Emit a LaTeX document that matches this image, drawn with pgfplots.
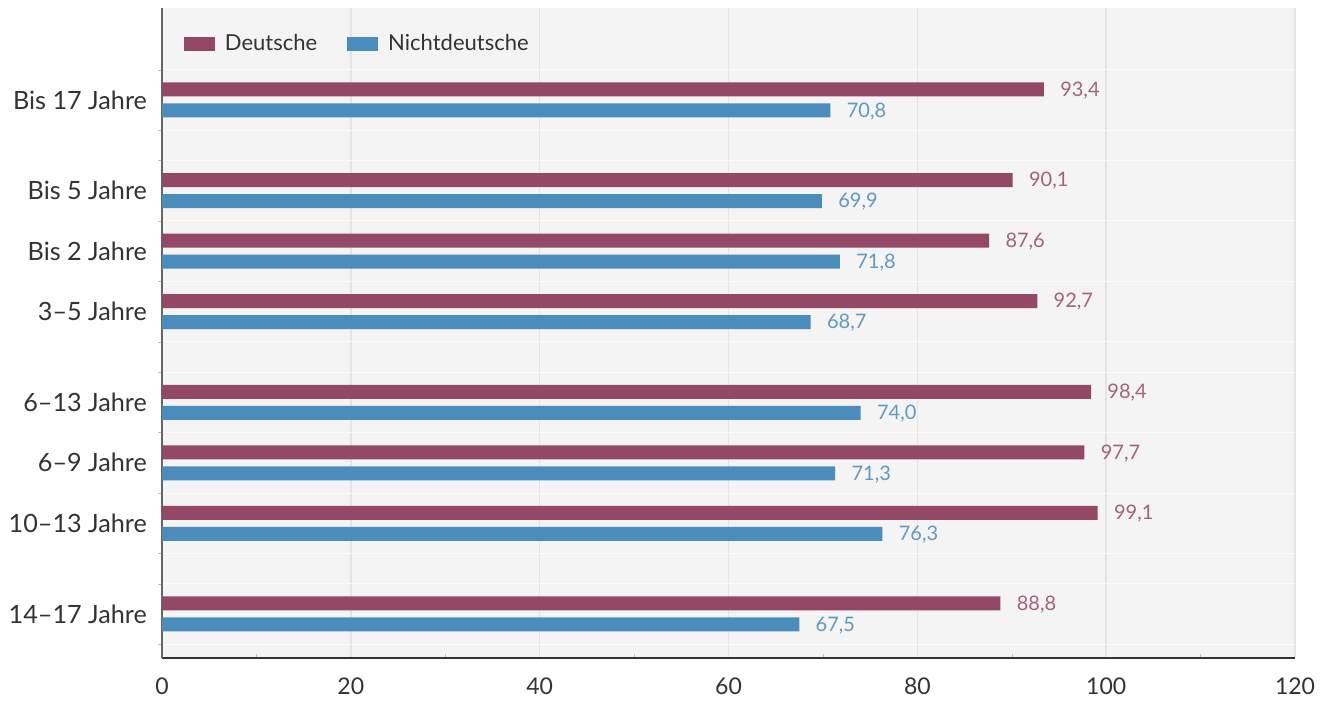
\documentclass[border=0pt]{standalone}
\usepackage{fontspec}
\setmainfont{Lato}
\usepackage{pgfplots}
\pgfplotsset{compat=1.18}
\definecolor{deu}{HTML}{934866}
\definecolor{nde}{HTML}{4A8CBB}
\definecolor{bg}{HTML}{F4F4F4}
\definecolor{grd}{HTML}{E4E4E4}
\definecolor{txt}{HTML}{333333}
\begin{document}
\begin{tikzpicture}
\begin{axis}[
  xbar, bar width=7pt,
  scale only axis, width=566.5pt, height=325pt,
  xmin=0, xmax=120, ymin=-9.2277, ymax=1.5214,
  axis x line*=bottom, axis y line*=left,
  x axis line style={draw=txt, line width=0.8pt},
  y axis line style={draw=black!60, line width=0.8pt},
  axis background/.style={fill=bg},
  xtick={0,20,...,120}, minor xtick={10,30,...,110},
  ytick={0,-1.5,-2.5,-3.5,-5,-6,-7,-8.5},
  yticklabels={Bis 17 Jahre, Bis 5 Jahre, Bis 2 Jahre, 3–5 Jahre, 6–13 Jahre, 6–9 Jahre, 10–13 Jahre, 14–17 Jahre},
  minor ytick={0.5,-0.5,-1,-2,-3,-4,-4.5,-5.5,-6.5,-7.5,-8,-9},
  xmajorgrids, yminorgrids,
  major grid style={draw=grd, line width=0.75pt},
  minor grid style={draw=white!55!bg, line width=0.5pt},
  major tick length=0pt, minor tick length=2pt,
  minor tick style={draw=black!25},
  /pgf/number format/assume math mode=true,
  xticklabel style={font=\fontsize{11.5}{13}\selectfont, text=txt, yshift=-6.5pt},
  yticklabel style={font=\fontsize{12.6}{14}\selectfont, text=txt, xshift=-4pt},
  legend style={at={(rel axis cs:0.0194,0.945)}, anchor=west, draw=none, fill=none,
    inner sep=0pt, outer sep=0pt, font=\fontsize{11}{12}\selectfont, text=txt,
    nodes={inner sep=0pt},
    /tikz/every odd column/.append style={column sep=5pt},
    /tikz/every even column/.append style={column sep=15pt}},
  legend columns=2,
  legend image code/.code={\fill[#1] (0pt,-3.5pt) rectangle (15.5pt,3.5pt);},
  point meta=x,
  nodes near coords={\pgfmathprintnumber[fixed,fixed zerofill,precision=1,use comma,assume math mode=true]{\pgfplotspointmeta}},
  every node near coord/.append style={anchor=west, inner sep=0pt, xshift=8pt, yshift=-0.4pt, font=\fontsize{10}{11}\selectfont},
]
\addplot[fill=deu, draw=none, bar shift=5.25pt,
  every node near coord/.append style={text=deu!85!white}] coordinates {
  (93.4,0) (90.1,-1.5) (87.6,-2.5) (92.7,-3.5) (98.4,-5) (97.7,-6) (99.1,-7) (88.8,-8.5)};
\addlegendentry{Deutsche}
\addplot[fill=nde, draw=none, bar shift=-5.25pt,
  every node near coord/.append style={text=nde!88!white}] coordinates {
  (70.8,0) (69.9,-1.5) (71.8,-2.5) (68.7,-3.5) (74.0,-5) (71.3,-6) (76.3,-7) (67.5,-8.5)};
\addlegendentry{Nichtdeutsche}
\coordinate (bl) at (rel axis cs:0,0);
\coordinate (tr) at (rel axis cs:1,1);
\end{axis}
\pgfresetboundingbox
\path[use as bounding box] ([xshift=-81pt,yshift=-21pt]bl) rectangle ([xshift=17.5pt,yshift=4pt]tr);
\end{tikzpicture}
\end{document}
